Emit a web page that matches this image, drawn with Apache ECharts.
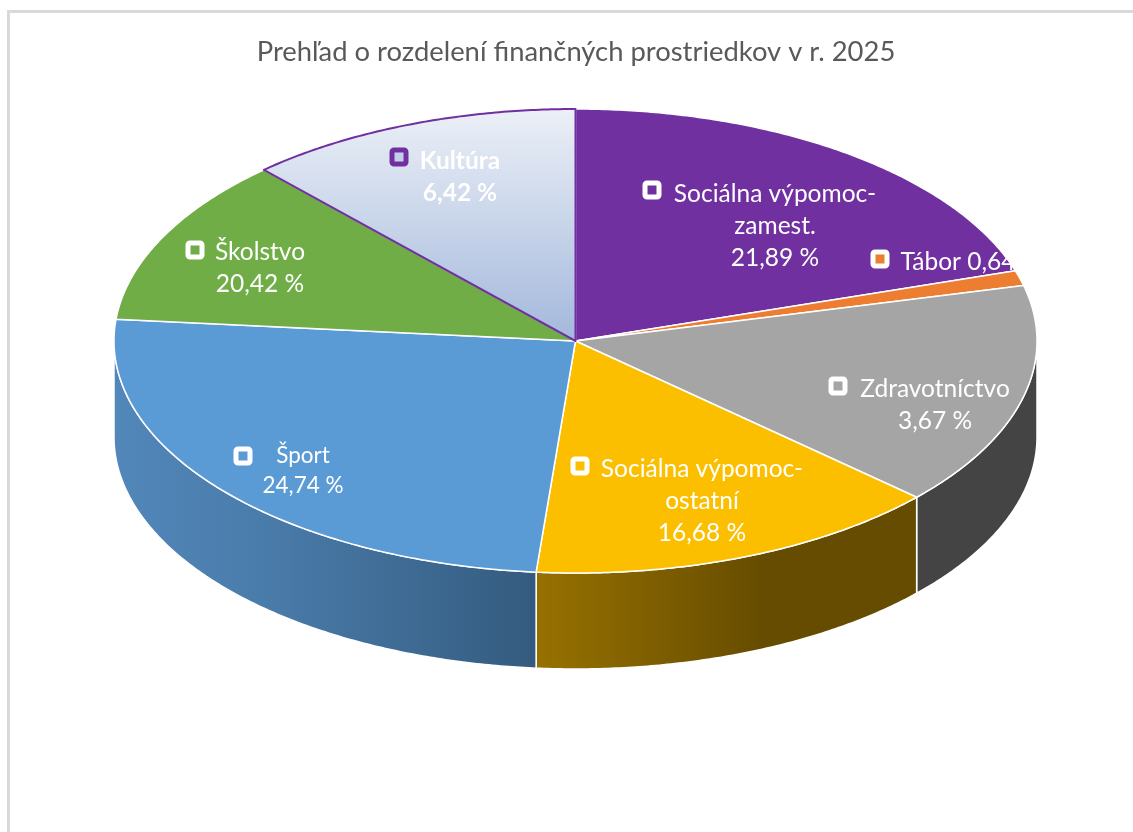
<!DOCTYPE html>
<html>
<head>
<meta charset="utf-8">
<title>Prehľad o rozdelení finančných prostriedkov v r. 2025</title>
<style>
html, body { margin: 0; padding: 0; background: #fff; }
#chart { width: 1133px; height: 832px; }
</style>
<script src="https://cdn.jsdelivr.net/npm/echarts@6/dist/echarts.min.js"></script>
</head>
<body>
<div id="chart"></div>
<script>
const chartTitle = 'Prehľad o rozdelení finančných prostriedkov v r. 2025'

// clockwise from 12 o'clock
const categories = ['Sociálna výpomoc-\nzamest.', 'Tábor', 'Zdravotníctvo', 'Sociálna výpomoc-\nostatní', 'Šport', 'Školstvo', 'Kultúra']
// percentages as printed on the picture
const printedPercents = ['21,89 %', '0,64 %', '3,67 %', '16,68 %', '24,74 %', '20,42 %', '6,42 %']
// the slices in the picture do not follow the printed numbers, so their size is read off separately (share of the circle, %)
const sliceShares = [20.1, 1.06, 15.6, 14.6, 25.14, 11.7, 11.8]

const sliceColors = ['#7030a0', '#ed7d31', '#a5a5a5', '#fbbf00', '#5b9bd5', '#70ad47', null]
const kulturaFill = new echarts.graphic.LinearGradient(0, 0, 0, 1, [
	{ offset: 0, color: '#ecf0f7' },
	{ offset: 1, color: '#a3b8dc' }
])
const wallFills = {
	2: '#444444',
	3: new echarts.graphic.LinearGradient(0, 0, 1, 0, [
		{ offset: 0, color: '#977100' },
		{ offset: 0.6, color: '#664c00' },
		{ offset: 1, color: '#664c00' }
	]),
	4: new echarts.graphic.LinearGradient(0, 0, 1, 0, [
		{ offset: 0, color: '#5287ba' },
		{ offset: 0.35, color: '#4a7cab' },
		{ offset: 1, color: '#345b7f' }
	])
}

const WALL_DEPTH = 96

// text centre, first-line centre and marker centre of every label
const labelLayout = [
	{ x: 775, y: 194, mx: 652, my: 190 },
	{ x: 971, y: 262, mx: 880, my: 259, inline: true },
	{ x: 935, y: 389, mx: 838, my: 386 },
	{ x: 702, y: 469, mx: 580, my: 466 },
	{ x: 303, y: 456, mx: 243, my: 456, size: 22.5, lineHeight: 30 },
	{ x: 260, y: 252, mx: 195, my: 250 },
	{ x: 460, y: 161, mx: 399, my: 157 }
]
const LINE_HEIGHT = 32

// [start %, end %] of each slice, running total of the shares
let running = 0
const sliceRanges = sliceShares.map((share) => {
	const row = [running, running + share]
	running += share
	return row
})

const rimPoint = (api, deg, drop) => {
	const rad = deg * Math.PI / 180
	const p = api.coord([Math.sin(rad), Math.cos(rad)])
	return [p[0], p[1] + (drop || 0)]
}

const rimArc = (api, from, to, drop) => {
	const pts = []
	const steps = Math.max(2, Math.ceil((to - from) * 2))
	for (let i = 0; i <= steps; i++) {
		pts.push(rimPoint(api, from + (to - from) * i / steps, drop))
	}
	return pts
}

const renderWall = (params, api) => {
	const from = Math.max(sliceRanges[params.dataIndex][0] * 3.6, 90)
	const to = Math.min(sliceRanges[params.dataIndex][1] * 3.6, 270)
	if (to <= from) return null
	const points = rimArc(api, from, to, 0).concat(rimArc(api, from, to, WALL_DEPTH).reverse())
	return {
		type: 'polygon',
		shape: { points },
		style: { fill: wallFills[params.dataIndex], stroke: '#fff', lineWidth: 1.5 }
	}
}

const renderTop = (params, api) => {
	const i = params.dataIndex
	const center = api.coord([0, 0])
	const points = [center].concat(rimArc(api, sliceRanges[i][0] * 3.6, sliceRanges[i][1] * 3.6, 0))
	const isKultura = i === 6
	return {
		type: 'polygon',
		shape: { points },
		style: {
			fill: isKultura ? kulturaFill : sliceColors[i],
			stroke: isKultura ? '#7030a0' : '#fff',
			lineWidth: isKultura ? 2 : 1.5,
			lineJoin: 'round'
		},
		z2: isKultura ? 5 : 1
	}
}

const renderLabel = (params) => {
	const i = params.dataIndex
	const pos = labelLayout[i]
	const isKultura = i === 6
	const text = categories[i] + (pos.inline ? ' ' : '\n') + printedPercents[i]
	const lineHeight = pos.lineHeight || LINE_HEIGHT
	return {
		type: 'group',
		children: [
			{
				type: 'rect',
				shape: { x: pos.mx - 7, y: pos.my - 7, width: 14, height: 14, r: 2 },
				style: {
					fill: isKultura ? '#c3cfe8' : (sliceColors[i]),
					stroke: isKultura ? '#7030a0' : '#fff',
					lineWidth: 5
				}
			},
			{
				type: 'text',
				x: pos.x,
				y: pos.y - lineHeight / 2,
				style: {
					text,
					fill: '#fff',
					font: (isKultura ? '700 ' : '') + (pos.size || 24.5) + 'px Lato',
					align: 'center',
					verticalAlign: 'top',
					lineHeight
				}
			}
		]
	}
}

const myChart = echarts.init(document.getElementById('chart'), null, { renderer: 'canvas' })

myChart.setOption({
	animation: false,
	backgroundColor: '#fff',
	title: {
		text: chartTitle,
		left: 571,
		top: 34,
		textAlign: 'center',
		textStyle: { color: '#595959', fontFamily: 'Lato', fontSize: 27.4, fontWeight: 'normal' }
	},
	// unit circle on stretched axes gives the ellipse of the tilted pie
	grid: { left: 114, top: 109, width: 923, height: 464 },
	xAxis: { type: 'value', min: -1, max: 1, show: false },
	yAxis: { type: 'value', min: -1, max: 1, show: false },
	graphic: [
		{ type: 'rect', shape: { x: 7, y: 10, width: 1126, height: 3 }, style: { fill: '#d9d9d9' } },
		{ type: 'rect', shape: { x: 7, y: 10, width: 3, height: 822 }, style: { fill: '#d9d9d9' } }
	],
	series: [
		{ type: 'custom', z: 1, clip: false, silent: true, data: sliceRanges, renderItem: renderWall },
		{ type: 'custom', z: 2, clip: false, silent: true, data: sliceRanges, renderItem: renderTop },
		{ type: 'custom', z: 3, clip: false, silent: true, data: sliceRanges, renderItem: renderLabel }
	]
})
</script>
</body>
</html>
